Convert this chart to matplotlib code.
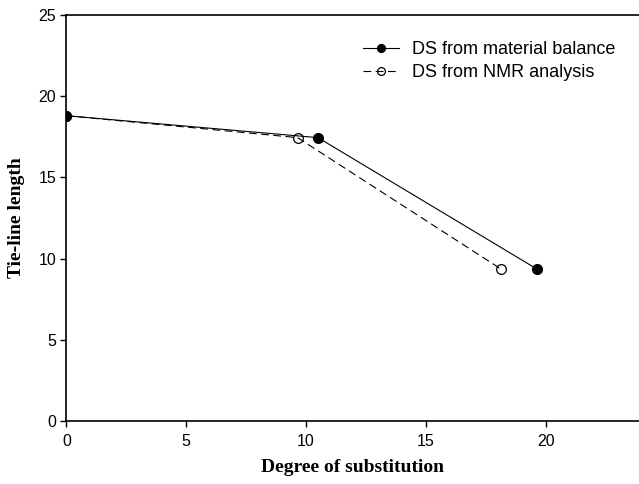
import matplotlib
matplotlib.use("Agg")
import matplotlib.pyplot as plt

ds_mb = [0, 10.5, 19.65]
tll_mb = [18.8, 17.45, 9.35]
ds_nmr = [0, 9.65, 18.15]
tll_nmr = [18.8, 17.45, 9.35]
xticks = [0, 5, 10, 15, 20]
yticks = [0, 5, 10, 15, 20, 25]

fig = plt.figure(figsize=(6.39, 4.84), dpi=100)
ax = fig.add_axes([0.104, 0.130, 0.896, 0.839])

ax.plot(ds_mb, tll_mb, color='black', lw=0.8, marker='o', ms=7,
        mfc='black', mec='black', label='DS from material balance')
ax.plot(ds_nmr, tll_nmr, color='black', lw=0.8, ls=(0, (7, 4)), marker='o', ms=7,
        mfc='none', mec='black', mew=0.9, label='DS from NMR analysis')

ax.set_xlim(0, 23.9)
ax.set_ylim(0, 25)
ax.set_xticks(xticks)
ax.set_yticks(yticks)
ax.spines['right'].set_visible(False)
for s in ['left', 'bottom', 'top']:
    ax.spines[s].set_linewidth(1.2)
ax.tick_params(direction='out', length=4, width=1, labelsize=11.5)
ax.tick_params(axis='x', pad=5)
for lab in ax.get_xticklabels() + ax.get_yticklabels():
    lab.set_family('Liberation Sans')

ax.set_xlabel('Degree of substitution', family='Liberation Serif', weight='bold',
              fontsize=14)
ax.set_ylabel('Tie-line length', family='Liberation Serif', weight='bold',
              fontsize=14)
ax.xaxis.set_label_coords(0.5, -0.093)
ax.yaxis.set_label_coords(-0.072, 0.5)

leg = ax.legend(loc='upper left', bbox_to_anchor=(0.49, 0.975), frameon=False,
                prop={'family': 'Liberation Sans', 'size': 13}, handlelength=2.0,
                handletextpad=0.7, labelspacing=0.3, markerscale=0.8)

fig.savefig('out.png', dpi=100)
